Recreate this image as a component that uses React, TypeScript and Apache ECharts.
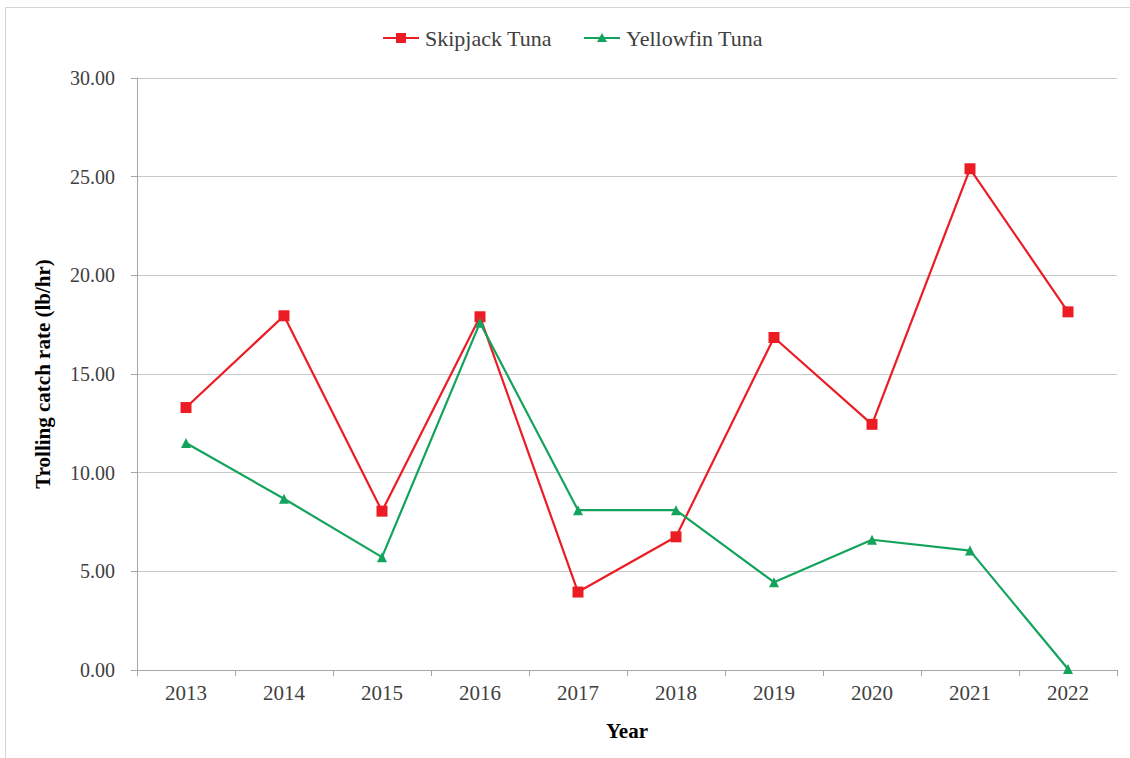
import React, { useEffect, useRef } from "react";
import * as echarts from "echarts";

const years = ["2013", "2014", "2015", "2016", "2017", "2018", "2019", "2020", "2021", "2022"];
const skipjack = [13.3, 17.95, 8.05, 17.9, 3.95, 6.75, 16.85, 12.45, 25.4, 18.15];
const yellowfin = [11.5, 8.68, 5.72, 17.6, 8.1, 8.1, 4.45, 6.6, 6.05, 0.05];
const seriesNames = ["Skipjack Tuna", "Yellowfin Tuna"];
const yTicks = { min: 0, max: 30, interval: 5 };

const RED = "#ec1c24";
const GREEN = "#13a35c";
const FONT = "Liberation Serif";

export default function App() {
  const ref = useRef<HTMLDivElement>(null);
  useEffect(() => {
    if (!ref.current) return;
    const chart = echarts.init(ref.current, undefined, { renderer: "svg" });
    const legendItem = (name: string, color: string, shape: "rect" | "tri", x: number) => ({
      type: "group",
      x,
      y: 38,
      children: [
        { type: "line", shape: { x1: 0, y1: 0, x2: 36, y2: 0 }, style: { stroke: color, lineWidth: 2.2 } },
        shape === "rect"
          ? { type: "rect", shape: { x: 13, y: -5, width: 10, height: 10 }, style: { fill: color } }
          : { type: "polygon", shape: { points: [[18, -5], [23, 4], [13, 4]] }, style: { fill: color } },
        {
          type: "text",
          x: 42,
          y: 0,
          style: {
            text: name,
            font: "22px 'Liberation Serif', serif",
            fontFamily: FONT,
            fontSize: 22,
            fill: "#404040",
            verticalAlign: "middle",
            align: "left",
          },
        },
      ],
    });
    chart.setOption({
      animation: false,
      backgroundColor: "#ffffff",
      textStyle: { fontFamily: FONT },
      graphic: [
        {
          type: "rect",
          shape: { x: 5.5, y: 7.5, width: 1200, height: 800 },
          style: { fill: "none", stroke: "#d4d4d4", lineWidth: 1 },
          silent: true,
        },
        legendItem(seriesNames[0], RED, "rect", 383),
        legendItem(seriesNames[1], GREEN, "tri", 584),
      ],
      grid: { left: 137, right: 13, top: 78, bottom: 88, containLabel: false },
      xAxis: {
        type: "category",
        data: years,
        boundaryGap: true,
        name: "Year",
        nameLocation: "middle",
        nameGap: 50,
        nameTextStyle: { fontFamily: FONT, fontSize: 21, fontWeight: "bold", color: "#000" },
        axisLine: { show: true, lineStyle: { color: "#a6a6a6", width: 1 } },
        axisTick: { show: true, length: 6, lineStyle: { color: "#a6a6a6" } },
        axisLabel: { fontFamily: FONT, fontSize: 21, color: "#404040", margin: 12 },
        splitLine: { show: false },
      },
      yAxis: {
        type: "value",
        min: yTicks.min,
        max: yTicks.max,
        interval: yTicks.interval,
        name: "Trolling catch rate (lb/hr)",
        nameLocation: "middle",
        nameGap: 84,
        nameTextStyle: { fontFamily: FONT, fontSize: 21, fontWeight: "bold", color: "#000" },
        axisLine: { show: true, lineStyle: { color: "#a6a6a6", width: 1 } },
        axisTick: { show: true, length: 6, lineStyle: { color: "#a6a6a6" } },
        axisLabel: {
          fontFamily: FONT,
          fontSize: 20,
          color: "#404040",
          margin: 22,
          formatter: (v: number) => v.toFixed(2),
        },
        splitLine: { show: true, lineStyle: { color: "#c8c8c8", width: 1 } },
      },
      series: [
        {
          name: seriesNames[0],
          type: "line",
          data: skipjack,
          symbol: "rect",
          symbolSize: 11,
          lineStyle: { color: RED, width: 2.2 },
          itemStyle: { color: RED },
        },
        {
          name: seriesNames[1],
          type: "line",
          data: yellowfin,
          symbol: "triangle",
          symbolSize: 10,
          lineStyle: { color: GREEN, width: 2.2 },
          itemStyle: { color: GREEN },
        },
      ],
    });
    return () => chart.dispose();
  }, []);
  return (
    <div
      ref={ref}
      style={{ position: "fixed", left: 0, top: 0, width: 1130, height: 758 }}
    />
  );
}
